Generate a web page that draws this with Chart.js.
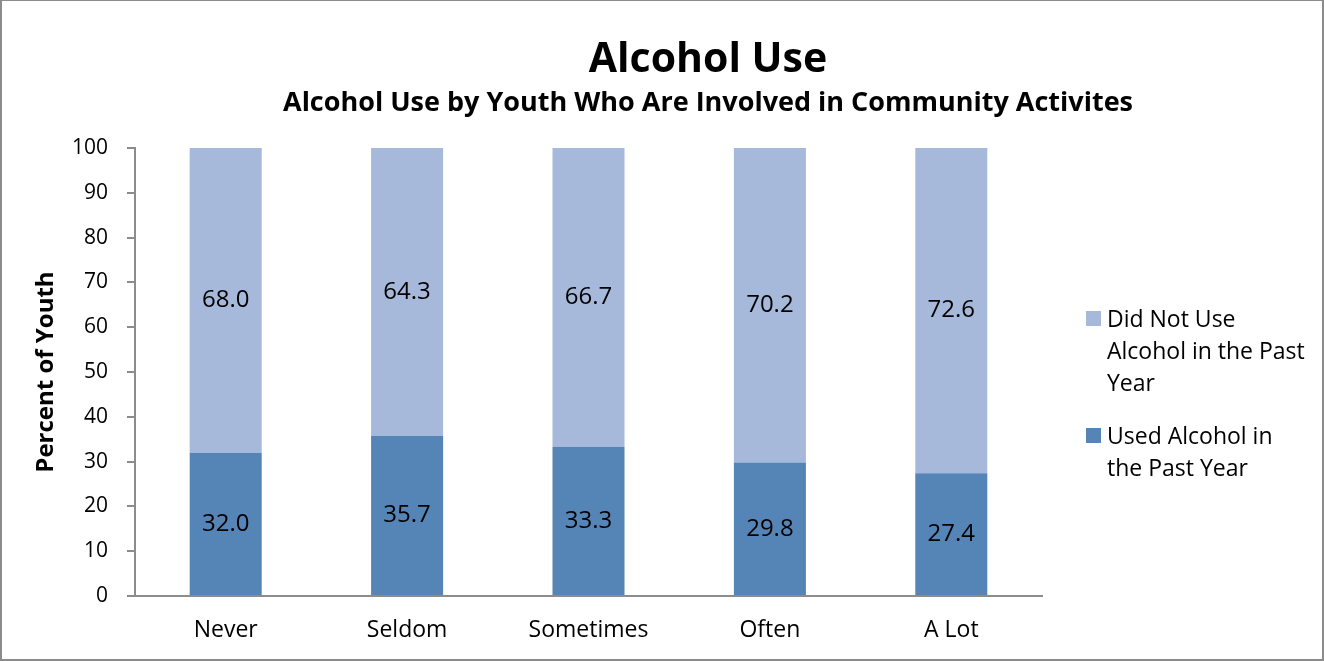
<!DOCTYPE html>
<html>
<head>
<meta charset="utf-8">
<script src="https://cdn.jsdelivr.net/npm/chart.js@4"></script>
<style>
    html, body { margin: 0; padding: 0; background: #fff; }
    #wrap { position: relative; width: 1324px; height: 661px; overflow: hidden; font-family: "Open Sans", sans-serif; }
    #frame { position: absolute; left: 0; top: 0; width: 1324px; height: 661px; box-sizing: border-box; border: 2px solid #8c8c8c; border-top-width: 1px; pointer-events: none; }
    canvas { position: absolute; left: 0; top: 0; }
    .title { position: absolute; left: 0; width: 1416px; text-align: center; font-weight: bold; color: #000; white-space: nowrap; }
    #title { top: 36px; font-size: 41px; line-height: 41px; }
    #subtitle { top: 87px; font-size: 27px; line-height: 27px; }
    #legend { position: absolute; left: 1086px; top: 302px; }
    .item { position: relative; padding-left: 21px; font-size: 23px; line-height: 32px; color: #000; margin-bottom: 21px; white-space: nowrap; }
    .box { position: absolute; left: 0; top: 9px; width: 15px; height: 15px; }
</style>
</head>
<body>
<div id="wrap">
    <canvas id="chart" width="1324" height="661"></canvas>
    <div id="title" class="title">Alcohol Use</div>
    <div id="subtitle" class="title">Alcohol Use by Youth Who Are Involved in Community Activites</div>
    <div id="legend"></div>
    <div id="frame"></div>
</div>
<script>
const categories = ['Never', 'Seldom', 'Sometimes', 'Often', 'A Lot'];
const usedAlcohol = [32.0, 35.7, 33.3, 29.8, 27.4];
const didNotUse = [68.0, 64.3, 66.7, 70.2, 72.6];
const yTicks = [0, 10, 20, 30, 40, 50, 60, 70, 80, 90, 100];
const usedLabel = ['Used Alcohol in', 'the Past Year'];
const notUsedLabel = ['Did Not Use', 'Alcohol in the Past', 'Year'];

const darkBlue = '#5584b6';
const lightBlue = '#a6b9da';
const axisGray = '#8c8c8c';

// numbers in the middle of each segment
const valueLabels = {
    id: 'valueLabels',
    afterDatasetsDraw(chart) {
        const ctx = chart.ctx;
        ctx.save();
        ctx.font = '24px "Open Sans"';
        ctx.fillStyle = '#000';
        ctx.textAlign = 'center';
        ctx.textBaseline = 'middle';
        chart.data.datasets.forEach((ds, i) => {
            chart.getDatasetMeta(i).data.forEach((bar, j) => {
                ctx.fillText(ds.data[j].toFixed(1), bar.x, (bar.y + bar.base) / 2);
            });
        });
        ctx.restore();
    }
};

const myChart = new Chart(document.getElementById('chart'), {
    type: 'bar',
    data: {
        labels: categories,
        datasets: [
            { label: usedLabel, data: usedAlcohol, backgroundColor: darkBlue },
            { label: notUsedLabel, data: didNotUse, backgroundColor: lightBlue }
        ]
    },
    options: {
        responsive: false,
        animation: false,
        devicePixelRatio: 1,
        categoryPercentage: 1,
        barPercentage: 0.397,
        layout: { padding: { top: 148, right: 282, bottom: 0, left: 0 } },
        plugins: {
            legend: { display: false },
            title: { display: false },
            tooltip: { enabled: false }
        },
        scales: {
            x: {
                stacked: true,
                grid: { display: false, drawTicks: false },
                border: { display: true, color: axisGray, width: 2 },
                ticks: { color: '#000', font: { family: 'Open Sans', size: 23 }, padding: 21 },
                afterFit: scale => { scale.height = 65; }
            },
            y: {
                stacked: true,
                min: 0,
                max: 100,
                afterBuildTicks: scale => { scale.ticks = yTicks.map(v => ({ value: v })); },
                grid: { drawOnChartArea: false, drawTicks: true, tickLength: 8, color: axisGray, lineWidth: 2 },
                border: { display: true, color: axisGray, width: 2 },
                ticks: { color: '#000', font: { family: 'Open Sans', size: 21 }, padding: 19 },
                title: {
                    display: true,
                    text: 'Percent of Youth',
                    color: '#000',
                    font: { family: 'Open Sans', size: 24, weight: 'bold' },
                    padding: { top: 32, bottom: 0 }
                },
                afterFit: scale => { scale.width = 135; }
            }
        }
    },
    plugins: [valueLabels]
});

// legend on the right, top entry first like the stack
const legend = document.getElementById('legend');
myChart.data.datasets.slice().reverse().forEach(ds => {
    const item = document.createElement('div');
    item.className = 'item';
    const box = document.createElement('span');
    box.className = 'box';
    box.style.background = ds.backgroundColor;
    item.appendChild(box);
    item.insertAdjacentHTML('beforeend', ds.label.join('<br>'));
    legend.appendChild(item);
});
</script>
</body>
</html>
